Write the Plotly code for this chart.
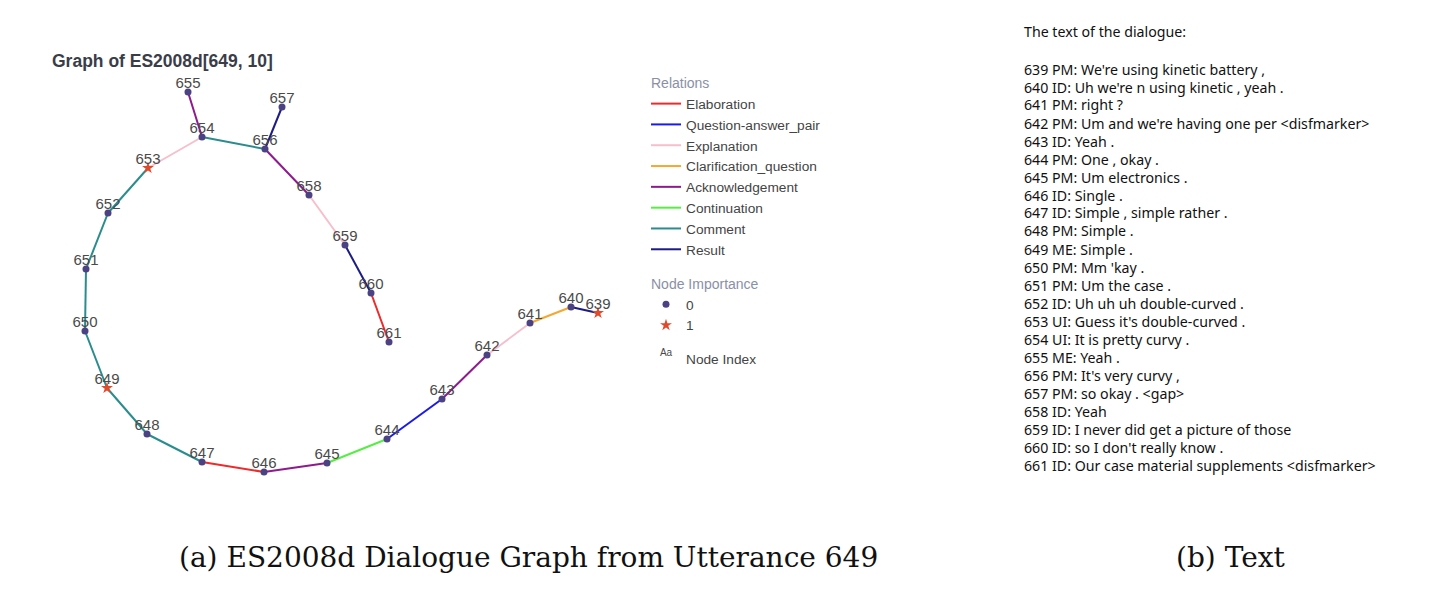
import plotly.graph_objects as go

# node layout (positions)
node_ids = [639, 640, 641, 642, 643, 644, 645, 646, 647, 648, 649, 650,
            651, 652, 653, 654, 655, 656, 657, 658, 659, 660, 661]
node_x = [598, 571, 530, 487, 442, 387, 327, 264, 202, 147, 107, 85,
          86, 108, 148, 202, 188, 265, 282, 309, 345, 371, 389]
node_y = [313, 307, 323, 355, 399, 439, 463, 472, 462, 434, 388, 331,
          269, 213, 168, 137, 92, 149, 107, 195, 245, 293, 342]
node_importance = [1, 0, 0, 0, 0, 0, 0, 0, 0, 0, 1, 0,
                   0, 0, 1, 0, 0, 0, 0, 0, 0, 0, 0]

# edges: (source, target, relation)
edges = [
    (639, 640, 'Result'),
    (640, 641, 'Clarification_question'),
    (641, 642, 'Explanation'),
    (642, 643, 'Acknowledgement'),
    (643, 644, 'Question-answer_pair'),
    (644, 645, 'Continuation'),
    (645, 646, 'Acknowledgement'),
    (646, 647, 'Elaboration'),
    (647, 648, 'Comment'),
    (648, 649, 'Comment'),
    (649, 650, 'Comment'),
    (650, 651, 'Comment'),
    (651, 652, 'Comment'),
    (652, 653, 'Comment'),
    (653, 654, 'Explanation'),
    (654, 655, 'Acknowledgement'),
    (654, 656, 'Comment'),
    (656, 657, 'Result'),
    (656, 658, 'Acknowledgement'),
    (658, 659, 'Explanation'),
    (659, 660, 'Result'),
    (660, 661, 'Elaboration'),
]

relations = ['Elaboration', 'Question-answer_pair', 'Explanation',
             'Clarification_question', 'Acknowledgement', 'Continuation',
             'Comment', 'Result']
relation_colors = ['#ee2a2a', '#1a1aee', '#f7bfcc', '#f5a733',
                   '#8e1a8e', '#55ee44', '#2a8c8c', '#1c1c84']

dialogue = [
    "639 PM: We're using kinetic battery ,",
    "640 ID: Uh we're n using kinetic , yeah .",
    "641 PM: right ?",
    "642 PM: Um and we're having one per <disfmarker>",
    "643 ID: Yeah .",
    "644 PM: One , okay .",
    "645 PM: Um electronics .",
    "646 ID: Single .",
    "647 ID: Simple , simple rather .",
    "648 PM: Simple .",
    "649 ME: Simple .",
    "650 PM: Mm 'kay .",
    "651 PM: Um the case .",
    "652 ID: Uh uh uh double-curved .",
    "653 UI: Guess it's double-curved .",
    "654 UI: It is pretty curvy .",
    "655 ME: Yeah .",
    "656 PM: It's very curvy ,",
    "657 PM: so okay . <gap>",
    "658 ID: Yeah",
    "659 ID: I never did get a picture of those",
    "660 ID: so I don't really know .",
    "661 ID: Our case material supplements <disfmarker>",
]

W, H = 1440, 590
OFF = 8  # page margin of the html body


def px(x):
    return (x - OFF) / W


def py(y):
    return 1 - (y - OFF) / H


pos = {n: (x, y) for n, x, y in zip(node_ids, node_x, node_y)}

fig = go.Figure()

# one trace per relation type
for rel, col in zip(relations, relation_colors):
    xs, ys = [], []
    for a, b, r in edges:
        if r == rel:
            xs += [pos[a][0], pos[b][0], None]
            ys += [pos[a][1], pos[b][1], None]
    fig.add_trace(go.Scatter(
        x=xs, y=ys, mode='lines', name=rel,
        line=dict(color=col, width=2),
        legendgroup='rel', legendgrouptitle=dict(text='Relations'),
        hoverinfo='skip'))

# nodes by importance
for imp, sym, col, size in [(0, 'circle', '#4b4283', 7), (1, 'star', '#e04a2c', 9)]:
    fig.add_trace(go.Scatter(
        x=[x for x, i in zip(node_x, node_importance) if i == imp],
        y=[y for y, i in zip(node_y, node_importance) if i == imp],
        mode='markers', name=str(imp),
        marker=dict(symbol=sym, size=size, color=col),
        legendgroup='imp', legendgrouptitle=dict(text='Node Importance')))

# node labels
fig.add_trace(go.Scatter(
    x=node_x, y=node_y, mode='text', name='Node Index',
    text=[str(n) for n in node_ids], textposition='top center',
    textfont=dict(size=15, color='#4a4a4a'),
    legendgroup='idx', hoverinfo='skip'))

txt_font = dict(family='Noto Sans', size=14.2, color='#111')
ann = []
ann.append(dict(text='The text of the dialogue:', x=px(1022), y=py(31),
                xref='paper', yref='paper', xanchor='left', yanchor='middle',
                showarrow=False, font=txt_font))
for i, line in enumerate(dialogue):
    ann.append(dict(text=line.replace('<', '&lt;').replace('>', '&gt;'),
                    x=px(1022), y=py(69 + 18 * i),
                    xref='paper', yref='paper', xanchor='left', yanchor='middle',
                    showarrow=False, font=txt_font))
cap_font = dict(family='DejaVu Serif', size=28, color='#111')
ann.append(dict(text='(a) ES2008d Dialogue Graph from Utterance 649', x=px(528), y=py(557),
                xref='paper', yref='paper', xanchor='center', yanchor='middle',
                showarrow=False, font=cap_font))
ann.append(dict(text='(b) Text', x=px(1231), y=py(557),
                xref='paper', yref='paper', xanchor='center', yanchor='middle',
                showarrow=False, font=cap_font))

fig.update_layout(
    width=W, height=H,
    margin=dict(l=0, r=0, t=0, b=0),
    paper_bgcolor='white', plot_bgcolor='white',
    font=dict(family='Liberation Sans, Arial', size=12, color='#444'),
    title=dict(text='<b>Graph of ES2008d[649, 10]</b>', x=px(52), xanchor='left',
               y=py(61), yanchor='middle', font=dict(size=17.5, color='#3a3d48')),
    xaxis=dict(range=[OFF, W + OFF], visible=False, fixedrange=True),
    yaxis=dict(range=[H + OFF, OFF], visible=False, fixedrange=True),
    legend=dict(x=px(646), y=py(67), xanchor='left', yanchor='top',
                tracegroupgap=13, font=dict(size=13.7, color='#444'),
                grouptitlefont=dict(size=14, color='#8a90a6')),
    annotations=ann,
    showlegend=True,
)

fig.write_html('out.html')
